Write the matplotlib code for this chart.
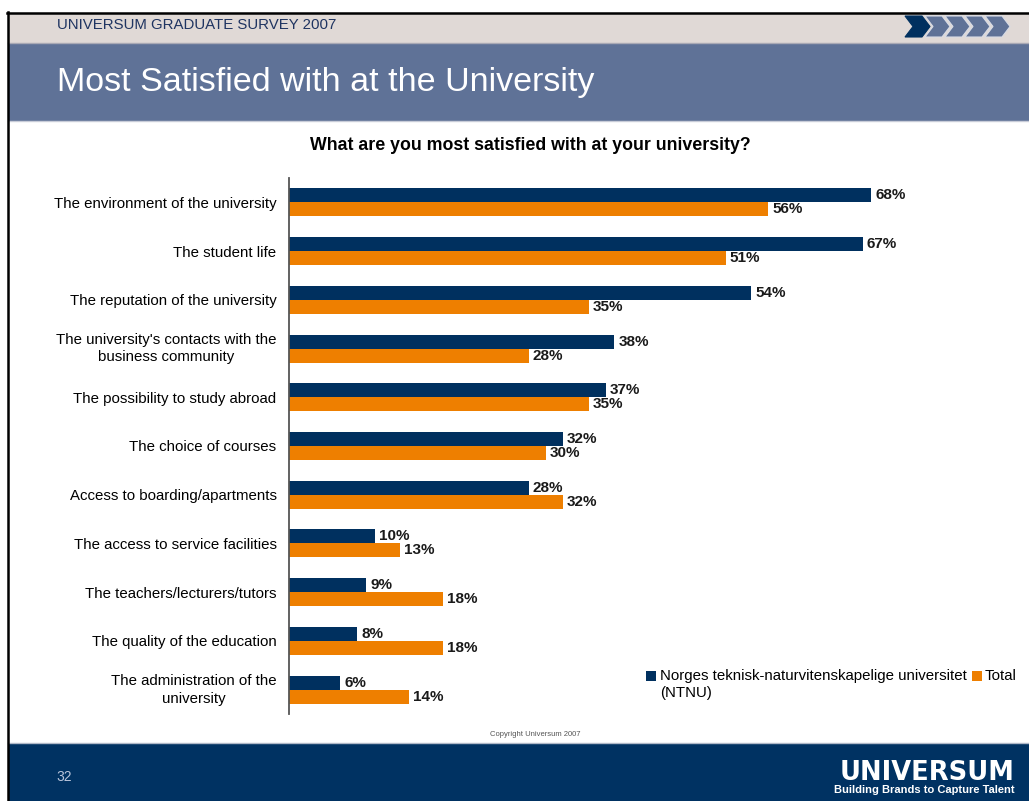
import matplotlib
matplotlib.use("Agg")
import matplotlib.pyplot as plt
from matplotlib.patches import Rectangle, Polygon
from matplotlib.lines import Line2D

plt.rcParams['font.family'] = ['Liberation Sans', 'DejaVu Sans']

categories = [
    "The environment of the university",
    "The student life",
    "The reputation of the university",
    "The university's contacts with the\nbusiness community",
    "The possibility to study abroad",
    "The choice of courses",
    "Access to boarding/apartments",
    "The access to service facilities",
    "The teachers/lecturers/tutors",
    "The quality of the education",
    "The administration of the\nuniversity",
]
ntnu = [68, 67, 54, 38, 37, 32, 28, 10, 9, 8, 6]
total = [56, 51, 35, 28, 35, 30, 32, 13, 18, 18, 14]

NAVY = "#00305F"
ORANGE = "#EE7F00"
BAND = "#5F7297"
HEADER = "#E0D9D6"

W, H = 1029, 801
fig = plt.figure(figsize=(W / 100, H / 100), dpi=100)
fig.patch.set_facecolor("white")


def fx(x):
    return x / W


def fy(y):
    return 1 - y / H


def rect(x0, y0, x1, y1, color, **kw):
    fig.patches.append(Rectangle((fx(x0), fy(y1)), fx(x1 - x0), (y1 - y0) / H,
                                 transform=fig.transFigure, facecolor=color,
                                 edgecolor="none", **kw))


# header bands
rect(8, 13, W, 43, HEADER)
rect(8, 43, W, 121, BAND)
fig.lines.append(Line2D([fx(8), 1], [fy(43), fy(43)], transform=fig.transFigure, color="#A9A9B5", lw=1))
fig.lines.append(Line2D([fx(8), 1], [fy(121), fy(121)], transform=fig.transFigure, color="#C8CCD8", lw=1))
# footer
rect(8, 744, W, H, "#003262")
fig.lines.append(Line2D([fx(8), 1], [fy(743), fy(743)], transform=fig.transFigure, color="#B0B8C8", lw=1))
# border
fig.lines.append(Line2D([fx(7), 1], [fy(12.5), fy(12.5)], transform=fig.transFigure, color="black", lw=1.8))
fig.lines.append(Line2D([fx(7.5), fx(7.5)], [fy(12), 0], transform=fig.transFigure, color="black", lw=1.8))

# chevrons
for i in range(5):
    x0 = 905 + i * 20
    pts = [(x0, 16), (x0 + 17, 16), (x0 + 25, 26.5), (x0 + 17, 37), (x0, 37), (x0 + 8, 26.5)]
    poly = Polygon([(fx(a), fy(b)) for a, b in pts], closed=True, transform=fig.transFigure,
                   facecolor=NAVY if i == 0 else BAND, edgecolor="#D8DCE6" if i else NAVY, lw=0.8)
    fig.patches.append(poly)

fig.text(fx(57), fy(25), "UNIVERSUM GRADUATE SURVEY 2007", color="#1F3461", fontsize=10.8,
         ha="left", va="center")
fig.text(fx(57), fy(82), "Most Satisfied with at the University", color="white", fontsize=24.5,
         ha="left", va="center")
fig.text(fx(530), fy(145), "What are you most satisfied with at your university?", color="black",
         fontsize=12.8, fontweight="bold", ha="center", va="center")
fig.text(fx(535), fy(734), "Copyright Universum 2007", color="#555555", fontsize=5.5,
         ha="center", va="center")
fig.text(fx(56), fy(777), "32", color="#B8C4DA", fontsize=10, ha="left", va="center")
fig.text(fx(1015), fy(772.5), "UNIVERSUM", color="white", fontsize=18.5, fontweight="bold",
         family=["DejaVu Sans"], ha="right", va="center")
fig.text(fx(1015), fy(790), "Building Brands to Capture Talent", color="white", fontsize=8,
         fontweight="bold", ha="right", va="center")

# chart
ax = fig.add_axes([fx(289), fy(714), fx(975 - 289), 536 / H])
n = len(categories)
ys = list(range(n))
bh = 0.288
ax.barh([y - bh / 2 for y in ys], ntnu, height=bh, color=NAVY, edgecolor="none")
ax.barh([y + bh / 2 for y in ys], total, height=bh, color=ORANGE, edgecolor="none")
for y, v in zip(ys, ntnu):
    ax.annotate(f"{v}%", (v, y - bh / 2), xytext=(3, 0), textcoords="offset points",
                ha="left", va="center", fontsize=11, fontweight="bold", color="#1a1a1a")
for y, v in zip(ys, total):
    ax.annotate(f"{v}%", (v, y + bh / 2), xytext=(3, 0), textcoords="offset points",
                ha="left", va="center", fontsize=11, fontweight="bold", color="#1a1a1a")

ax.set_xlim(0, (975 - 289) / 8.56)
ax.set_ylim(n - 0.5, -0.5)
ax.set_yticks(ys)
ax.set_yticklabels(categories, fontsize=10.8)
for lab in ax.get_yticklabels():
    lab.set_multialignment("center")
    lab.set_linespacing(1.35)
    if "\n" in lab.get_text():
        lab.set_verticalalignment("center")
ax.tick_params(axis="y", length=0, pad=9)
ax.set_xticks([])
for s in ["top", "right", "bottom"]:
    ax.spines[s].set_visible(False)
ax.spines["left"].set_color("#555555")
ax.spines["left"].set_linewidth(1.3)
ax.patch.set_alpha(0)

# legend (manual)
rect(646, 671, 656, 681, NAVY)
fig.text(fx(660), fy(676), "Norges teknisk-naturvitenskapelige universitet", fontsize=10.8,
         ha="left", va="center", color="black")
fig.text(fx(660), fy(693), "(NTNU)", fontsize=10.8, ha="left", va="center", color="black")
rect(972, 671, 982, 681, ORANGE)
fig.text(fx(985), fy(676), "Total", fontsize=10.8, ha="left", va="center", color="black")

fig.savefig("out.png", dpi=100)
